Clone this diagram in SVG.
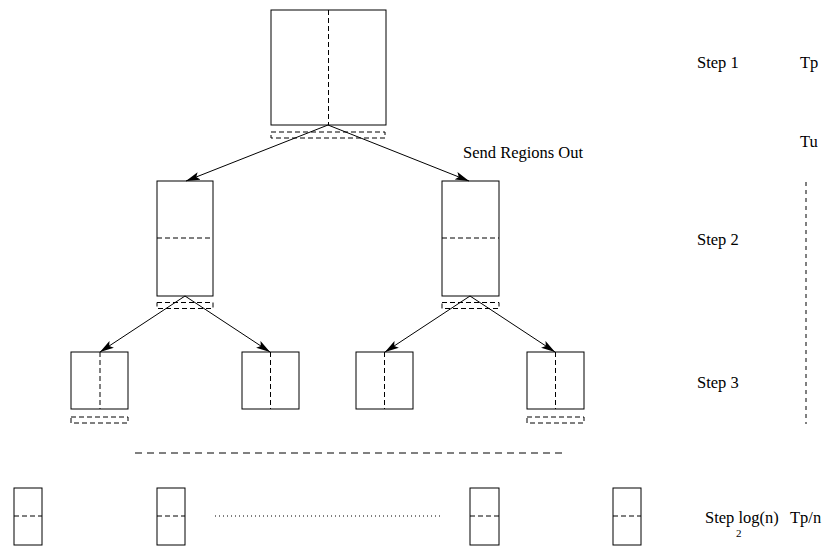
<svg xmlns="http://www.w3.org/2000/svg" width="827" height="546" viewBox="0 0 827 546">
<style>
.box{fill:none;stroke:#000;stroke-width:1}
.div{stroke:#000;stroke-width:1;stroke-dasharray:5,3;fill:none}
.buf{fill:none;stroke:#000;stroke-width:1;stroke-dasharray:5,3}
.edge{stroke:#000;stroke-width:1;fill:none;marker-end:url(#ah)}
text{font-family:"Liberation Serif","Times New Roman",serif;font-size:16.5px;fill:#000}
</style>
<defs>
<marker id="ah" markerWidth="15" markerHeight="9" refX="14" refY="4.5" orient="auto" markerUnits="userSpaceOnUse">
<path d="M0,0.5 L14,4.5 L0,8.5 L3,4.5 Z" fill="#000"/>
</marker>
</defs>
<rect width="827" height="546" fill="#fff"/>
<g id="n_top">
<rect class="box" x="271" y="10" width="115" height="115"/>
<line class="div" x1="328.5" y1="10" x2="328.5" y2="125"/>
<rect class="buf" x="271" y="132" width="114" height="6"/>
</g>
<g id="n_l">
<rect class="box" x="157" y="181" width="56" height="115"/>
<line class="div" x1="157" y1="238" x2="213" y2="238"/>
<rect class="buf" x="157" y="302.5" width="56" height="6"/>
</g>
<g id="n_r">
<rect class="box" x="442" y="181" width="57" height="115"/>
<line class="div" x1="442" y1="238" x2="499" y2="238"/>
<rect class="buf" x="442" y="302.5" width="57" height="6"/>
</g>
<g id="n_ll">
<rect class="box" x="71" y="352" width="57" height="57"/>
<line class="div" x1="100" y1="352" x2="100" y2="409"/>
<rect class="buf" x="71" y="417" width="57" height="6"/>
</g>
<g id="n_lr">
<rect class="box" x="242" y="352" width="57" height="57"/>
<line class="div" x1="270.5" y1="352" x2="270.5" y2="409"/>
</g>
<g id="n_rl">
<rect class="box" x="356" y="352" width="57" height="57"/>
<line class="div" x1="384.5" y1="352" x2="384.5" y2="409"/>
</g>
<g id="n_rr">
<rect class="box" x="527" y="352" width="57" height="57"/>
<line class="div" x1="555.5" y1="352" x2="555.5" y2="409"/>
<rect class="buf" x="527" y="417" width="57" height="6"/>
</g>
<g id="sep">
<line x1="135" y1="453" x2="563" y2="453" stroke="#000" stroke-width="1" stroke-dasharray="7,5"/>
<line x1="215" y1="516" x2="440" y2="516" stroke="#000" stroke-width="1" stroke-dasharray="1,3"/>
<line x1="806" y1="182" x2="806" y2="424" stroke="#000" stroke-width="1" stroke-dasharray="4,4"/>
</g>
<g id="n_b1">
<rect class="box" x="14" y="488" width="28" height="57"/>
<line class="div" x1="14" y1="516" x2="42" y2="516"/>
</g>
<g id="n_b2">
<rect class="box" x="157" y="488" width="28" height="57"/>
<line class="div" x1="157" y1="516" x2="185" y2="516"/>
</g>
<g id="n_b3">
<rect class="box" x="470" y="488" width="29" height="57"/>
<line class="div" x1="470" y1="516" x2="499" y2="516"/>
</g>
<g id="n_b4">
<rect class="box" x="613" y="488" width="28" height="57"/>
<line class="div" x1="613" y1="516" x2="641" y2="516"/>
</g>
<g id="connectors">
<line class="edge" x1="328" y1="125" x2="186" y2="181"/>
<line class="edge" x1="328" y1="125" x2="469" y2="181"/>
<line class="edge" x1="185" y1="296" x2="100" y2="352"/>
<line class="edge" x1="185" y1="296" x2="270" y2="352"/>
<line class="edge" x1="470" y1="296" x2="385" y2="352"/>
<line class="edge" x1="470" y1="296" x2="555" y2="352"/>
</g>
<g id="labels">
<text x="463" y="158">Send Regions Out</text>
<text x="697" y="68">Step 1</text>
<text x="800" y="68">Tp</text>
<text x="800" y="147">Tu</text>
<text x="697" y="245">Step 2</text>
<text x="697" y="388">Step 3</text>
<text x="705" y="523">Step log(n)</text>
<text x="736" y="537" style="font-size:11px">2</text>
<text x="790" y="523">Tp/n</text>
</g>
</svg>
